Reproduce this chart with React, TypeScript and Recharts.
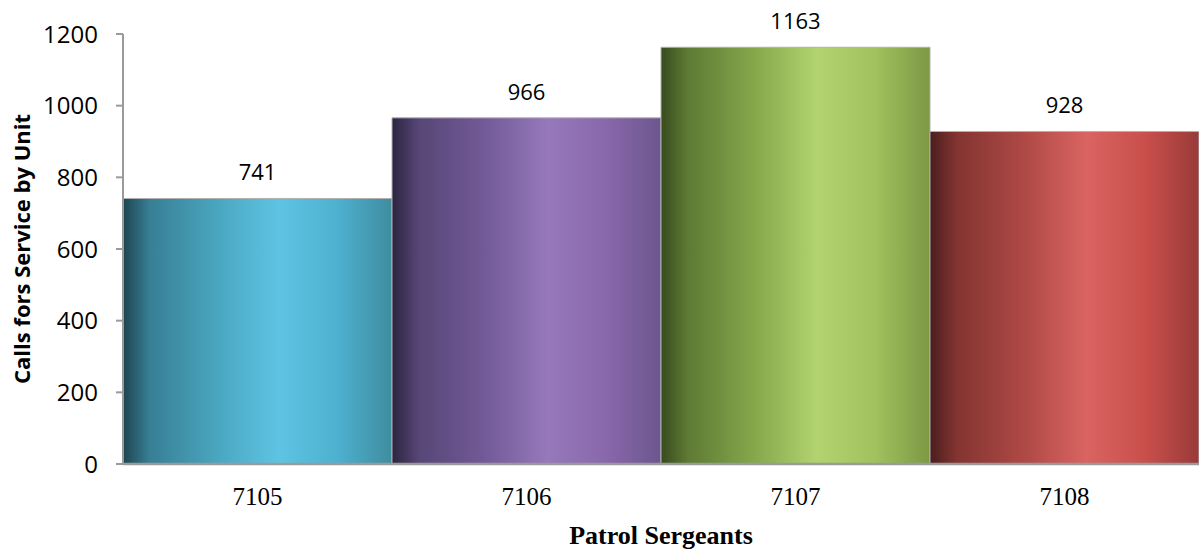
import { Bar, BarChart, Cell, LabelList, XAxis, YAxis } from "recharts";

const sergeants = ["7105", "7106", "7107", "7108"];
const calls = [741, 966, 1163, 928];
const yTicks = [0, 200, 400, 600, 800, 1000, 1200];

// horizontal "cylinder" shading for each bar: dark left edge, highlight right of centre
const shades = [
    ["#1e4550", "#377f95", "#4aa6bf", "#5ec4e3", "#4db0cf", "#3f8c9f"],
    ["#2c2540", "#574676", "#735a98", "#9679bb", "#8867ab", "#6c568e"],
    ["#384b1e", "#5e7a34", "#86a84b", "#b2d36f", "#a0c15d", "#7c9844"],
    ["#4a1e1d", "#833431", "#ae4945", "#d96461", "#c94f4b", "#983b39"],
];
const stops = [0, 0.1, 0.35, 0.58, 0.8, 1];

const data = sergeants.map((name, i) => ({ name, calls: calls[i] }));

const sans = "'Open Sans', sans-serif";
const serif = "'Liberation Serif', 'Times New Roman', serif";

const YTitle = (props: any) => {
    const vb = props.viewBox;
    const cx = 21;
    const cy = vb.y + vb.height / 2;
    return (
        <text
            x={cx}
            y={cy}
            transform={`rotate(-90, ${cx}, ${cy})`}
            textAnchor="middle"
            dominantBaseline="central"
            fontFamily={sans}
            fontWeight="bold"
            fontSize={22}
            fill="#000"
        >
            Calls fors Service by Unit
        </text>
    );
};

export default function App() {
    return (
        <div style={{ position: "absolute", left: 0, top: 0, background: "#fff" }}>
            <BarChart
                width={1199}
                height={549}
                data={data}
                margin={{ top: 34, right: 0, left: 0, bottom: 0 }}
                barCategoryGap={0}
            >
                <defs>
                    {shades.map((cols, i) => (
                        <linearGradient key={i} id={`shade${i}`} x1="0" y1="0" x2="1" y2="0">
                            {cols.map((c, j) => (
                                <stop key={j} offset={stops[j]} stopColor={c} />
                            ))}
                        </linearGradient>
                    ))}
                </defs>

                <XAxis
                    dataKey="name"
                    height={85}
                    tickLine={false}
                    tickMargin={17}
                    axisLine={{ stroke: "#9a9a9a", strokeWidth: 2.5 }}
                    tick={{ fontFamily: serif, fontSize: 25, fill: "#000" }}
                    label={{
                        value: "Patrol Sergeants",
                        position: "insideBottom",
                        offset: 5,
                        style: { fontFamily: serif, fontWeight: "bold", fontSize: 26, fill: "#000" },
                    }}
                />

                <YAxis
                    width={123}
                    domain={[0, 1200]}
                    ticks={yTicks}
                    interval={0}
                    tickSize={7}
                    tickMargin={18}
                    axisLine={{ stroke: "#9a9a9a", strokeWidth: 2 }}
                    tickLine={{ stroke: "#9a9a9a", strokeWidth: 2 }}
                    tick={{ fontFamily: sans, fontSize: 24, fill: "#000" }}
                    label={<YTitle />}
                />

                <Bar dataKey="calls" stroke="#b0b0b0" strokeWidth={1} isAnimationActive={false}>
                    {data.map((d, i) => (
                        <Cell key={d.name} fill={`url(#shade${i})`} />
                    ))}
                    <LabelList
                        dataKey="calls"
                        position="top"
                        offset={18}
                        style={{ fontFamily: sans, fontSize: 22, fill: "#000" }}
                    />
                </Bar>
            </BarChart>
        </div>
    );
}
